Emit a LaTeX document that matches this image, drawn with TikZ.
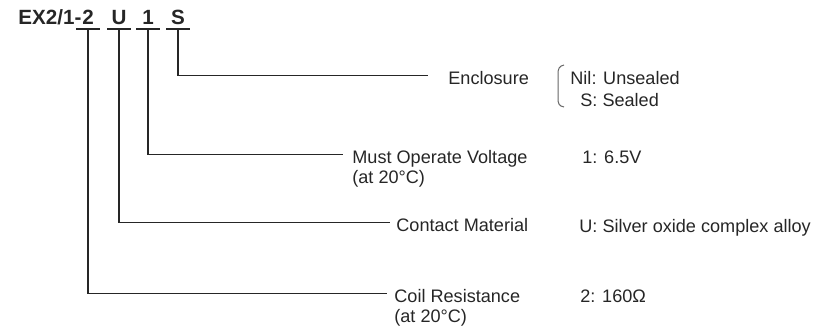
\documentclass[tikz,border=0pt]{standalone}
\usepackage{fontspec}
\setmainfont{Liberation Sans}
\usetikzlibrary{positioning}

\begin{document}
\begin{tikzpicture}[x=0.5pt,y=-0.5pt,
 lbl/.style={font=\fontsize{9.05}{10}\selectfont,inner sep=0pt,text height=9.4pt,text depth=0pt,text=black!85},
 code/.style={font=\fontsize{10.3}{11}\selectfont\bfseries,inner sep=0pt,text=black!85},
 wire/.style={line width=0.65pt,black!85}]
\useasboundingbox (0,0) rectangle (815,336);
%part number
\path (88,25) node(c2)[code,anchor=base]{2}
(119,25) node(cU)[code,anchor=base]{U}
(148,25) node(c1)[code,anchor=base]{1}
(178,25) node(cS)[code,anchor=base]{S};
\node[code,anchor=base east] (ex) at (c2.base west) {EX2/1-};
\foreach \c in {c2,cU,c1,cS}
 \draw[wire] ([xshift=-6pt,yshift=-2pt]\c.base) -- ([xshift=6pt,yshift=-2pt]\c.base);
%labels
\path (448,85) node(encl)[lbl,anchor=base west]{Enclosure}
(352,164) node(must)[lbl,anchor=base west]{Must Operate Voltage}
(396,232) node(contact)[lbl,anchor=base west]{Contact Material}
(394,303) node(coil)[lbl,anchor=base west]{Coil Resistance};
\node[lbl,anchor=base west] (must2) at ([yshift=-10pt]must.base west) {(at 20°C)};
\node[lbl,anchor=base west] (coil2) at ([yshift=-10pt]coil.base west) {(at 20°C)};
%values
\path (570,85) node(nil)[lbl,anchor=base west]{Nil: Unsealed}
(580,107) node(sealed)[lbl,anchor=base west]{S: Sealed}
(582,164) node(volt)[lbl,anchor=base west]{1: 6.5V}
(579,233) node(alloy)[lbl,anchor=base west]{U: Silver oxide complex alloy}
(580,303) node(ohm)[lbl,anchor=base west]{2: 160Ω};
\draw[black!60,line width=0.5pt] (564,65) .. controls (559,66) and (558,69) .. (558,74) -- (558,98) .. controls (558,104) and (559,106) .. (564,107);
%connectors
\draw[wire,shorten >=10pt] ([yshift=-2pt]cS.base) |- (encl.west);
\draw[wire,shorten >=4.5pt] ([yshift=-2pt]c1.base) |- (must.west);
\draw[wire,shorten >=3pt] ([yshift=-2pt]cU.base) |- (contact.west);
\draw[wire,shorten >=3.5pt] ([yshift=-2pt]c2.base) |- (coil.west);
\end{tikzpicture}
\end{document}
